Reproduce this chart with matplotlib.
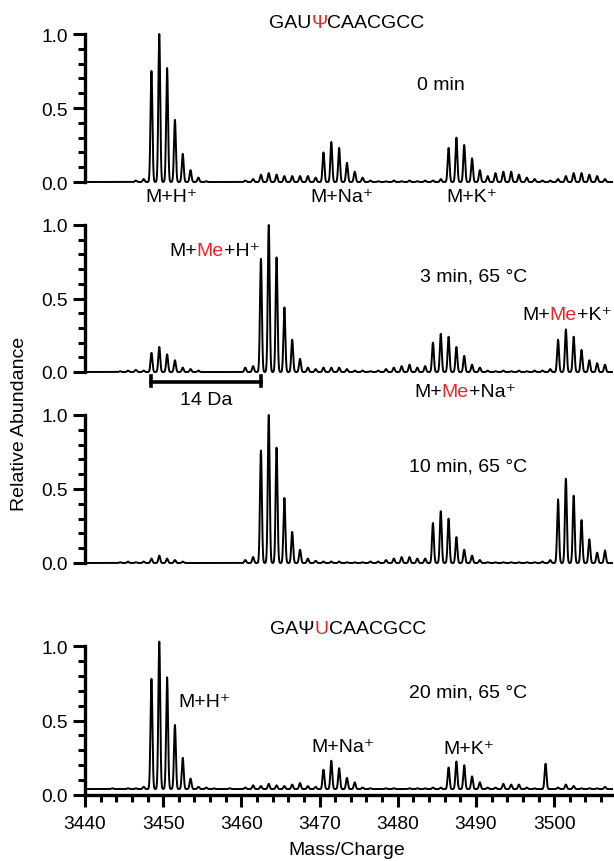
import numpy as np
import matplotlib
matplotlib.use("Agg")
import matplotlib.pyplot as plt
from matplotlib.ticker import MultipleLocator

plt.rcParams['font.family'] = ['Liberation Sans', 'DejaVu Sans']

# peak positions (m/z), shared by the four spectra
peak_mz = [3442.5, 3443.5, 3444.5, 3445.5, 3446.5, 3447.5, 3448.5, 3449.5, 3450.5, 3451.5,
           3452.5, 3453.5, 3454.5, 3455.5, 3456.5, 3457.5, 3458.5, 3459.5, 3460.5, 3461.5,
           3462.5, 3463.5, 3464.5, 3465.5, 3466.5, 3467.5, 3468.5, 3469.5, 3470.5, 3471.5,
           3472.5, 3473.5, 3474.5, 3475.5, 3476.5, 3477.5, 3478.5, 3479.5, 3480.5, 3481.5,
           3482.5, 3483.5, 3484.5, 3485.5, 3486.5, 3487.5, 3488.5, 3489.5, 3490.5, 3491.5,
           3492.5, 3493.5, 3494.5, 3495.5, 3496.5, 3497.5, 3498.5, 3499.5, 3500.5, 3501.5,
           3502.5, 3503.5, 3504.5, 3505.5, 3506.5]

# 0 min
inten_0 = [0, 0, 0, 0, 0.01, 0.02, 0.75, 1.0, 0.77, 0.42,
           0.19, 0.08, 0.03, 0.005, 0, 0, 0, 0, 0.01, 0.02,
           0.05, 0.06, 0.05, 0.04, 0.04, 0.04, 0.04, 0.03, 0.20, 0.27,
           0.23, 0.13, 0.07, 0.03, 0.01, 0.005, 0.005, 0.01, 0.005, 0.01,
           0.005, 0.01, 0.01, 0.02, 0.23, 0.30, 0.25, 0.16, 0.08, 0.04,
           0.06, 0.07, 0.07, 0.05, 0.03, 0.02, 0.01, 0.01, 0.02, 0.04,
           0.06, 0.06, 0.05, 0.04, 0.02]

# 3 min, 65 C
inten_3 = [0, 0, 0.005, 0.01, 0.015, 0.01, 0.13, 0.17, 0.12, 0.08,
           0.03, 0.02, 0.01, 0, 0, 0, 0, 0, 0.03, 0.04,
           0.77, 1.0, 0.78, 0.44, 0.22, 0.09, 0.03, 0.02, 0.03, 0.03,
           0.03, 0.02, 0.01, 0.01, 0.005, 0.01, 0.02, 0.03, 0.04, 0.05,
           0.03, 0.04, 0.20, 0.26, 0.24, 0.17, 0.11, 0.05, 0.03, 0.01,
           0.005, 0.01, 0.005, 0.01, 0.005, 0.01, 0.01, 0.02, 0.22, 0.29,
           0.24, 0.15, 0.08, 0.06, 0.05]

# 10 min, 65 C
inten_10 = [0, 0, 0.005, 0.01, 0.005, 0.01, 0.03, 0.05, 0.03, 0.02,
            0.01, 0, 0, 0, 0, 0, 0, 0, 0.02, 0.04,
            0.76, 1.0, 0.78, 0.44, 0.21, 0.09, 0.03, 0.015, 0.01, 0.01,
            0.01, 0.005, 0.005, 0.005, 0.01, 0.01, 0.02, 0.03, 0.04, 0.04,
            0.03, 0.03, 0.27, 0.35, 0.30, 0.175, 0.09, 0.05, 0.02, 0.005,
            0.005, 0.005, 0.005, 0.005, 0.005, 0.005, 0.01, 0.02, 0.43, 0.57,
            0.455, 0.29, 0.16, 0.07, 0.085]

# 20 min, 65 C (above the baseline)
inten_20 = [0, 0.005, 0, 0.005, 0.005, 0.015, 0.74, 0.99, 0.75, 0.43,
            0.21, 0.07, 0.015, 0.01, 0.005, 0, 0.005, 0, 0.01, 0.025,
            0.02, 0.035, 0.025, 0.02, 0.03, 0.04, 0.02, 0.015, 0.13, 0.19,
            0.14, 0.075, 0.045, 0.01, 0.005, 0, 0.005, 0.005, 0, 0.005,
            0.005, 0.005, 0.01, 0.01, 0.145, 0.185, 0.16, 0.085, 0.045, 0.01,
            0.01, 0.035, 0.03, 0.03, 0.01, 0.005, 0, 0, 0.01, 0.03,
            0.02, 0.005, 0.005, 0.005, 0.015]
extra_mz_20 = [3498.9]
extra_inten_20 = [0.17]
baseline_20 = 0.04

spectra = [
    (peak_mz, inten_0, 0.0),
    (peak_mz, inten_3, 0.0),
    (peak_mz, inten_10, 0.0),
    (peak_mz + extra_mz_20, inten_20 + extra_inten_20, baseline_20),
]

W, H = 614, 862
xmin, xmax = 3440, 3507.4
sigma = 0.12
fs = 14

# (pixel row of y=0, pixel row of y=1) for every panel
panel_px = [(183, 35), (373, 226), (564, 416), (796, 647)]

fig = plt.figure(figsize=(W / 100, H / 100), dpi=100)
axes = []
x = np.linspace(xmin, xmax, 8000)
for i, (y0, y1) in enumerate(panel_px):
    ax = fig.add_axes([85 / W, 1 - y0 / H, (612 - 85) / W, (y0 - y1) / H])
    mz, inten, base = spectra[i]
    y = np.full_like(x, base)
    for m, h in zip(mz, inten):
        y += h * np.exp(-(x - m) ** 2 / (2 * sigma ** 2))
    ax.plot(x, y, color='black', lw=1.4, clip_on=False)
    ax.set_xlim(xmin, xmax)
    ax.set_ylim(0, 1)
    ax.patch.set_visible(False)
    for s in ['top', 'right']:
        ax.spines[s].set_visible(False)
    ax.spines['left'].set_linewidth(2.4)
    ax.spines['left'].set_bounds(0, 1)
    ax.set_yticks([0, 0.5, 1.0])
    ax.set_yticklabels(['0.0', '0.5', '1.0'])
    ax.yaxis.set_minor_locator(MultipleLocator(0.1))
    ax.tick_params(axis='y', which='major', length=8.5, width=2.2, labelsize=13.8, pad=4)
    ax.tick_params(axis='y', which='minor', length=5, width=2.2)
    if i < 3:
        ax.spines['bottom'].set_visible(False)
        ax.set_xticks([])
    else:
        ax.spines['bottom'].set_linewidth(2.4)
        ax.set_xticks(range(3440, 3501, 10))
        ax.xaxis.set_minor_locator(MultipleLocator(2))
        ax.tick_params(axis='x', which='major', length=8.5, width=2.2, labelsize=13.8, pad=6)
        ax.tick_params(axis='x', which='minor', length=5, width=2.2)
    axes.append(ax)


def ftext(x_px, y_px, s, **kw):
    fig.text(x_px / W, 1 - y_px / H, s, ha='center', va='center', fontsize=fs, **kw)


def color_text(x_px, y_px, parts, size=fs):
    t = fig.text(x_px / W, 1 - y_px / H, parts[0][0], color=parts[0][1],
                 ha='left', va='center', fontsize=size)
    for s, c in parts[1:]:
        t = axes[0].annotate(s, xy=(1, 0.5), xycoords=t, ha='left', va='center',
                             color=c, fontsize=size, annotation_clip=False)


red = '#e8262b'

# panel 1
color_text(269, 23, [('GAU', 'black'), ('\u03a8', red), ('CAACGCC', 'black')])
ftext(441, 85, '0 min')
ftext(171, 198, 'M+H\u207a')
ftext(342, 198, 'M+Na\u207a')
ftext(472, 198, 'M+K\u207a')

# panel 2
color_text(169, 252, [('M+', 'black'), ('Me', red), ('+H\u207a', 'black')])
ftext(474, 277, '3 min, 65 \u00b0C')
color_text(522, 316, [('M+', 'black'), ('Me', red), ('+K\u207a', 'black')])
color_text(414, 393, [('M+', 'black'), ('Me', red), ('+Na\u207a', 'black')])
ax2 = axes[1]
ax2.plot([3448.5, 3462.5], [-0.066, -0.066], color='black', lw=2.6, clip_on=False)
for xe in [3448.5, 3462.5]:
    ax2.plot([xe, xe], [-0.025, -0.095], color='black', lw=2.6, clip_on=False)
ftext(206, 401, '14 Da')

# panel 3
ftext(468, 467, '10 min, 65 \u00b0C')

# panel 4
color_text(270, 630, [('GA\u03a8', 'black'), ('U', red), ('CAACGCC', 'black')])
ftext(468, 693, '20 min, 65 \u00b0C')
ftext(204, 703, 'M+H\u207a')
ftext(343, 748, 'M+Na\u207a')
ftext(469, 750, 'M+K\u207a')

ftext(347, 851, 'Mass/Charge')
ftext(20, 424, 'Relative Abundance', rotation=90)

fig.savefig('out.png', dpi=100)
